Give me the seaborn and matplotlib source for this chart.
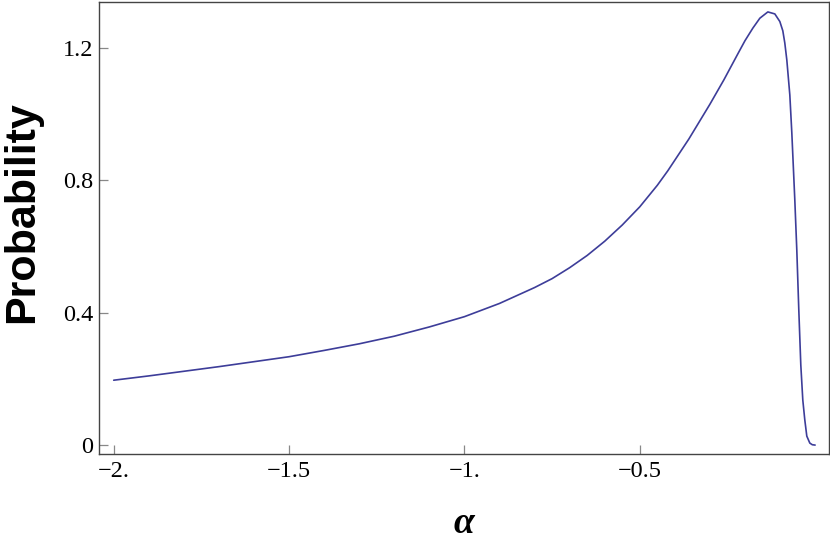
import matplotlib
matplotlib.use("Agg")
import matplotlib.pyplot as plt
import seaborn as sns
import pandas as pd
from matplotlib.ticker import FixedLocator, FixedFormatter

# data
alpha = [-2.0, -1.9, -1.8, -1.7, -1.6, -1.5, -1.4, -1.3, -1.2, -1.1,
         -1.0, -0.9, -0.8, -0.75, -0.7, -0.65, -0.6, -0.55, -0.5, -0.45,
         -0.42, -0.36, -0.30, -0.26, -0.22, -0.2, -0.1776, -0.1576, -0.1348,
         -0.1149, -0.1006, -0.0921, -0.0864, -0.0807, -0.0721, -0.0664,
         -0.0579, -0.0522, -0.0465, -0.0408, -0.0351, -0.0294, -0.0237,
         -0.0151, -0.008, 0.0]
prob = [0.196, 0.209, 0.223, 0.237, 0.252, 0.267, 0.286, 0.306, 0.329, 0.357,
        0.388, 0.428, 0.476, 0.503, 0.536, 0.573, 0.616, 0.665, 0.720, 0.785,
        0.829, 0.925, 1.030, 1.104, 1.183, 1.222, 1.260, 1.290, 1.309,
        1.303, 1.280, 1.252, 1.215, 1.164, 1.058, 0.943,
        0.741, 0.589, 0.408, 0.242, 0.136, 0.076, 0.027,
        0.006, 0.001, 0.0]

x_ticks = [-2.0, -1.5, -1.0, -0.5]
x_tick_labels = ["\u22122.", "\u22121.5", "\u22121.", "\u22120.5"]
y_ticks = [0.0, 0.4, 0.8, 1.2]
y_tick_labels = ["0", "0.4", "0.8", "1.2"]

df = pd.DataFrame({"alpha": alpha, "prob": prob})

sns.set_theme(style="white")
plt.rcParams["font.family"] = ["Liberation Serif", "DejaVu Serif"]
plt.rcParams["lines.solid_joinstyle"] = "round"

fig = plt.figure(figsize=(8.3, 5.47), dpi=100)
ax = fig.add_axes([99 / 830, 1 - 454 / 547, (829 - 99) / 830, (454 - 2) / 547])

sns.lineplot(data=df, x="alpha", y="prob", ax=ax, color="#3d3d99",
             linewidth=1.2, estimator=None, sort=False)

ax.set_xlim(-2.042, 0.0396)
ax.set_ylim(-0.027, 1.339)

ax.xaxis.set_major_locator(FixedLocator(x_ticks))
ax.xaxis.set_major_formatter(FixedFormatter(x_tick_labels))
ax.yaxis.set_major_locator(FixedLocator(y_ticks))
ax.yaxis.set_major_formatter(FixedFormatter(y_tick_labels))

ax.tick_params(axis="both", direction="in", length=6.5, width=0.9,
               color="#888888", labelsize=17.5, labelcolor="black",
               bottom=True, left=True, top=False, right=False)
ax.tick_params(axis="x", pad=5)
ax.tick_params(axis="y", pad=4)

for s in ax.spines.values():
    s.set_color("#444444")
    s.set_linewidth(1.0)
    s.set_visible(True)

ax.set_xlabel("\u03b1", fontsize=27, fontstyle="italic", fontweight="bold",
              family=["Liberation Serif", "DejaVu Serif"], color="black",
              labelpad=17)
ax.set_ylabel("Probability", fontsize=31, fontweight="bold",
              family=["Liberation Sans", "DejaVu Sans"], color="black")
ax.yaxis.set_label_coords(-0.078, 0.535)

fig.savefig("out.png", dpi=100)
